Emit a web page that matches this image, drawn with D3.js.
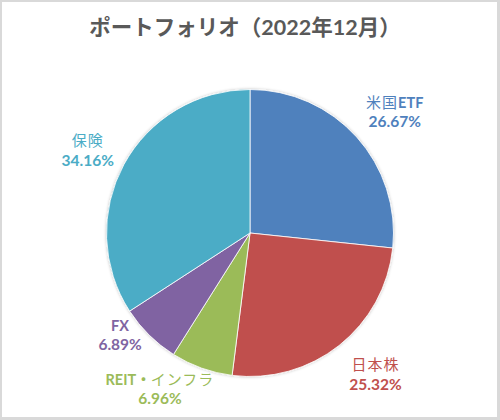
<!DOCTYPE html>
<html>
<head>
<meta charset="utf-8">
<script src="https://cdn.jsdelivr.net/npm/d3@7"></script>
<style>
  body { margin: 0; background: #fff; }
  svg text { font-family: Lato, "Noto Sans CJK JP", sans-serif; }
</style>
</head>
<body>
<div id="chart"></div>
<script>
// データ
var categories = ["米国ETF", "日本株", "REIT・インフラ", "FX", "保険"];
var percents = [26.67, 25.32, 6.96, 6.89, 34.16];
var colors = ["#4F81BD", "#C0504D", "#9BBB59", "#8064A2", "#4BACC6"];
var title = "ポートフォリオ（2022年12月）";

var width = 500, height = 420;
var cx = 250, cy = 233, radius = 143.5;

var svg = d3.select("#chart")
  .append("svg")
  .attr("width", width)
  .attr("height", height);

// 枠
svg.append("rect")
  .attr("width", width).attr("height", height)
  .attr("fill", "#d9d9d9");
svg.append("rect")
  .attr("x", 2).attr("y", 2)
  .attr("width", 495).attr("height", 415)
  .attr("fill", "#fff");

svg.append("text")
  .attr("x", 245)
  .attr("y", 35)
  .attr("text-anchor", "middle")
  .attr("font-size", "21.5px")
  .attr("font-weight", "bold")
  .attr("fill", "#595959")
  .text(title);

var data = categories.map(function(c, i) {
  return { name: c, value: percents[i], color: colors[i] };
});

var pie = d3.pie()
  .sort(null)
  .value(function(d) { return d.value; });

var arc = d3.arc().innerRadius(0).outerRadius(radius);

var defs = svg.append("defs");
var filter = defs.append("filter").attr("id", "shadow")
  .attr("x", "-10%").attr("y", "-10%").attr("width", "120%").attr("height", "120%");
filter.append("feGaussianBlur").attr("in", "SourceAlpha").attr("stdDeviation", 1.5).attr("result", "b");
filter.append("feFlood").attr("flood-color", "#000").attr("flood-opacity", 0.25);
filter.append("feComposite").attr("in2", "b").attr("operator", "in");
var merge = filter.append("feMerge");
merge.append("feMergeNode");
merge.append("feMergeNode").attr("in", "SourceGraphic");

var g = svg.append("g")
  .attr("transform", "translate(" + cx + "," + cy + ")")
  .attr("filter", "url(#shadow)");

g.selectAll(".slice")
  .data(pie(data))
  .enter().append("path")
  .attr("class", "slice")
  .attr("d", arc)
  .attr("fill", function(d) { return d.data.color; })
  .attr("stroke", "#fff")
  .attr("stroke-width", 0.8);

// ラベル位置（スライス外側の重心からのずらし）
var labelArc = d3.arc().innerRadius(radius * 1.16).outerRadius(radius * 1.16);
var labelOffsets = [[21, -11], [22, 10], [-34, -2], [-13, -17.5], [-16, -4.5]];

var labels = svg.append("g")
  .attr("transform", "translate(" + cx + "," + cy + ")");

labels.selectAll(".label")
  .data(pie(data))
  .enter().append("text")
  .attr("class", "label")
  .attr("text-anchor", "middle")
  .attr("font-size", "14.5px")
  .attr("fill", function(d) { return d.data.color; })
  .each(function(d, i) {
    var p = labelArc.centroid(d);
    var x = p[0] + labelOffsets[i][0];
    var y = p[1] + labelOffsets[i][1];
    var t = d3.select(this);
    var line1 = t.append("tspan").attr("x", x).attr("y", y - 3);
    // 英数字は太字、日本語は細字
    d.data.name.match(/[\x00-\x7F・]+|[^\x00-\x7F・]+/g).forEach(function(part) {
      var ascii = /[\x00-\x7F・]/.test(part);
      line1.append("tspan")
        .attr("font-weight", ascii ? "bold" : "normal")
        .attr("font-size", ascii ? "14.5px" : "15px")
        .attr("letter-spacing", ascii ? 0 : 1)
        .text(part);
    });
    t.append("tspan").attr("x", x).attr("y", y + 16.5)
      .attr("font-weight", "bold")
      .attr("font-size", "15.5px")
      .text(d3.format(".2f")(d.data.value) + "%");
  });
</script>
</body>
</html>
